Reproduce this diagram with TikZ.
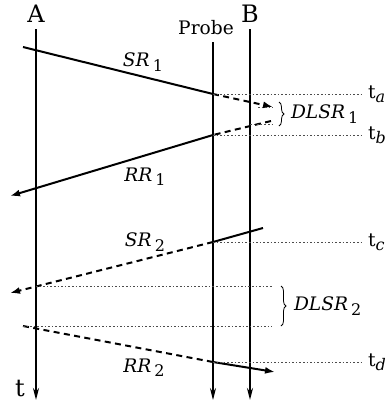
\documentclass[tikz,border=0pt]{standalone}
\usepackage{fontspec}
\setmainfont{DejaVu Serif}
\usetikzlibrary{arrows.meta,decorations.pathreplacing}
\newcommand{\lowidx}[1]{\raisebox{-0.45ex}{\footnotesize #1}}

\begin{document}
\begin{tikzpicture}[x=0.5pt,y=-0.5pt,
    font=\fontsize{9.3}{10}\selectfont,
    hostline/.style={line width=1pt,-{Stealth[length=6pt,width=3pt]}},
    probeline/.style={line width=0.6pt,-{Stealth[length=6pt,width=3pt]}},
    msg/.style={line width=1pt},
    msgtip/.style={-{Latex[length=5pt,width=3.5pt]}},
    msgdash/.style={line width=1pt,dash pattern=on 3pt off 2.2pt},
    timeline/.style={line width=0.4pt,dash pattern=on 0.8pt off 1pt,black!70},
    dlsrbrace/.style={decorate,decoration={brace,amplitude=2.5pt},line width=0.4pt}]
  \useasboundingbox (0,0) rectangle (385,408);

  % 时间轴
  \node (A) at (36,14) {\large A};
  \node (B) at (250,14) {\large B};
  \node (probe) at (206,28) {Probe};
  \node (t) at (20,389) {\large t};
  \draw[hostline] (36,29) -- (36,400);
  \draw[probeline] (213,42) -- (213,400);
  \draw[hostline] (250,29) -- (250,400);

  % 事件点
  \coordinate (sr1s) at (23,47);
  \coordinate (sr1p) at (213,94);
  \coordinate (sr1e) at (273,107);
  \coordinate (rr1s) at (271,121);
  \coordinate (rr1p) at (213,135);
  \coordinate (rr1e) at (10,196);
  \coordinate (sr2s) at (263,228);
  \coordinate (sr2p) at (213,242);
  \coordinate (sr2a) at (36,286);
  \coordinate (sr2e) at (10,293);
  \coordinate (rr2s) at (23,326);
  \coordinate (rr2p) at (213,362);
  \coordinate (rr2e) at (275,372);

  % 报文
  \draw[msg] (sr1s) -- (sr1p);
  \draw[msgdash,msgtip] (sr1p) -- (sr1e);
  \draw[msgdash] (rr1s) -- (rr1p);
  \draw[msg,msgtip] (rr1p) -- (rr1e);
  \draw[msg] (sr2s) -- (sr2p);
  \draw[msgdash,msgtip] (sr2p) -- (sr2e);
  \draw[msgdash] (rr2s) -- (rr2p);
  \draw[msg,msgtip] (rr2p) -- (rr2e);

  \node (sr1) at (143,62) {\textit{SR}\,\lowidx{1}};
  \node (rr1) at (145,177) {\textit{RR}\,\lowidx{1}};
  \node (sr2) at (145,242) {\textit{SR}\,\lowidx{2}};
  \node (rr2) at (144,368) {\textit{RR}\,\lowidx{2}};

  % 时刻
  \node[anchor=west] (ta) at (361,94) {t\lowidx{\textit{a}}};
  \node[anchor=west] (tb) at (361,135) {t\lowidx{\textit{b}}};
  \node[anchor=west] (tc) at (361,242) {t\lowidx{\textit{c}}};
  \node[anchor=west] (td) at (361,362) {t\lowidx{\textit{d}}};
  \draw[timeline] (sr1p) -- (ta.west);
  \draw[timeline] (rr1p) -- (tb.west);
  \draw[timeline] (sr2p) -- (tc.west);
  \draw[timeline] (rr2p) -- (td.west);
  \draw[timeline] (258,107) -- (273,107);
  \draw[timeline] (250,124) -- (273,124);
  \draw[timeline] (sr2a) -- (272,286);
  \draw[timeline] (rr2s) -- (272,326);

  % DLSR
  \draw[dlsrbrace] (279,102) -- (279,126);
  \draw[dlsrbrace] (281,286) -- (281,326);
  \node[anchor=west] (dlsr1) at (284,114) {\textit{DLSR}\,\lowidx{1}};
  \node[anchor=west] (dlsr2) at (287,306) {\textit{DLSR}\,\lowidx{2}};
\end{tikzpicture}
\end{document}
